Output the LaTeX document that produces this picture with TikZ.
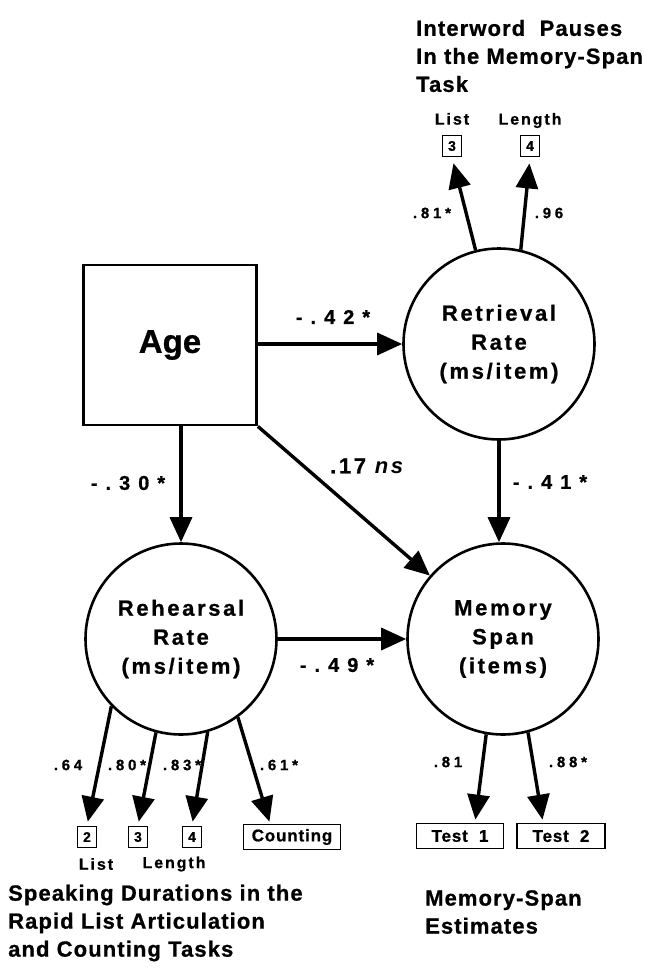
\documentclass[tikz,border=0pt]{standalone}
\usepackage{fontspec}
\setmainfont{Liberation Sans}[BoldFeatures={FakeBold=0.8}]
\newfontfamily\trackfont{Liberation Sans}[LetterSpace=40, BoldFeatures={FakeBold=0.8}]
\newfontfamily\loadfont{Liberation Sans}[LetterSpace=25, BoldFeatures={FakeBold=0.8}]
\newfontfamily\widefont{Liberation Sans}[LetterSpace=12, BoldFeatures={FakeBold=0.8}]
\newfontfamily\capfont{Liberation Sans}[LetterSpace=5, BoldFeatures={FakeBold=0.8}]
\usepackage{tikz}
\usetikzlibrary{arrows.meta, positioning}

\begin{document}
\begin{tikzpicture}[x=1pt, y=-1pt,
  obsbox/.style={draw, line width=2.8pt, minimum width=173pt, minimum height=160pt,
    font=\fontsize{33}{38}\selectfont\bfseries},
  latent/.style={draw, circle, line width=2.6pt, minimum size=191pt, inner sep=0pt,
    align=center, font=\widefont\fontsize{22}{29}\selectfont\bfseries},
  numbox/.style={draw, line width=1.8pt, minimum width=19pt, minimum height=21pt,
    inner sep=0pt, font=\fontsize{14}{16}\selectfont\bfseries},
  testbox/.style={draw, line width=1.8pt, minimum height=25pt, inner sep=2pt,
    font=\capfont\fontsize{17}{20}\selectfont\bfseries},
  lbl/.style={inner sep=0pt, font=\widefont\fontsize{16}{19}\selectfont\bfseries},
  coef/.style={inner sep=0pt, font=\trackfont\fontsize{20}{24}\selectfont\bfseries},
  load/.style={inner sep=0pt, font=\loadfont\fontsize{15}{17}\selectfont\bfseries},
  caption/.style={inner sep=0pt, align=left, anchor=west,
    font=\capfont\fontsize{22}{28}\selectfont\bfseries},
  arr/.style={-{Triangle[length=25pt, width=22pt]}, line width=3.4pt}]

  \useasboundingbox (0,0) rectangle (649,972);

  \node[obsbox] (age) at (170,345) {Age};
  \node[latent] (ret) at (499,344) {Retrieval\\Rate\\(ms/item)};
  \node[latent] (reh) at (181,639) {Rehearsal\\Rate\\(ms/item)};
  \node[latent] (mem) at (503,639) {Memory\\Span\\(items)};

  \node[numbox] (r3) at (452,146) {3};
  \node[numbox] (r4) at (530,146) {4};
  \node[lbl, above=10pt of r3, anchor=base] (lr3) {List};
  \node[lbl, above=10pt of r4, anchor=base] (lr4) {Length};

  \node[numbox] (s2) at (87,837) {2};
  \node[numbox] (s3) at (138,837) {3};
  \node[numbox] (s4) at (192,837) {4};
  \node[testbox, minimum width=97pt] (cnt) at (292,837) {Counting};
  \node[lbl] (ls2) at (96,864) {List};
  \node[lbl] (ls3) at (174,864) {Length};

  \node[testbox, minimum width=87pt] (t1) at (460,836) {Test\ \ 1};
  \node[testbox, minimum width=88pt] (t2) at (561,836) {Test\ \ 2};

  \node[caption] (cap1) at (416,56) {Interword\ \ Pauses\\In the Memory-Span\\Task};
  \node[caption] (cap2) at (8,923) {Speaking Durations in the\\Rapid List Articulation\\and Counting Tasks};
  \node[caption] (cap3) at (425,912) {Memory-Span\\Estimates};

  \draw[arr] (age.east |- ret.west) -- (ret.west);
  \draw[arr] (age.south -| reh.north) -- (reh.north);
  \draw[arr] (age.south east) -- (mem);
  \draw[arr] (ret.south) -- (ret.south |- mem.north);
  \draw[arr] (reh.east) -- (mem.west);

  \draw[arr, shorten >=6pt] (ret.104) -- (r3.south);
  \draw[arr, shorten >=6pt] (ret.77) -- (r4.south);
  \draw[arr, shorten >=4pt] (reh.224) -- (s2.north);
  \draw[arr, shorten >=4pt] (reh.255) -- (s3.north);
  \draw[arr, shorten >=4pt] (reh.286) -- (s4.north);
  \draw[arr, shorten >=2pt] (reh.306) -- ([xshift=-22pt]cnt.north);
  \draw[arr, shorten >=3pt] (mem.260) -- ([xshift=15pt]t1.north);
  \draw[arr, shorten >=3pt] (mem.285) -- ([xshift=-18pt]t2.north);

  \node[coef] (c1) at (333,317) {-.42*};
  \node[coef] (c2) at (128,483) {-.30*};
  \node[inner sep=0pt, font=\widefont\fontsize{22}{26}\selectfont\bfseries] (c3) at (368,466) {.17 \textit{ns}};
  \node[coef] (c4) at (550,482) {-.41*};
  \node[coef] (c5) at (337,665) {-.49*};

  \node[load] (m1) at (432,213) {.81*};
  \node[load] (m2) at (549,213) {.96};
  \node[load] (m3) at (68,765) {.64};
  \node[load] (m4) at (127,765) {.80*};
  \node[load] (m5) at (182,765) {.83*};
  \node[load] (m6) at (279,765) {.61*};
  \node[load] (m7) at (448,762) {.81};
  \node[load] (m8) at (568,762) {.88*};

\end{tikzpicture}
\end{document}
